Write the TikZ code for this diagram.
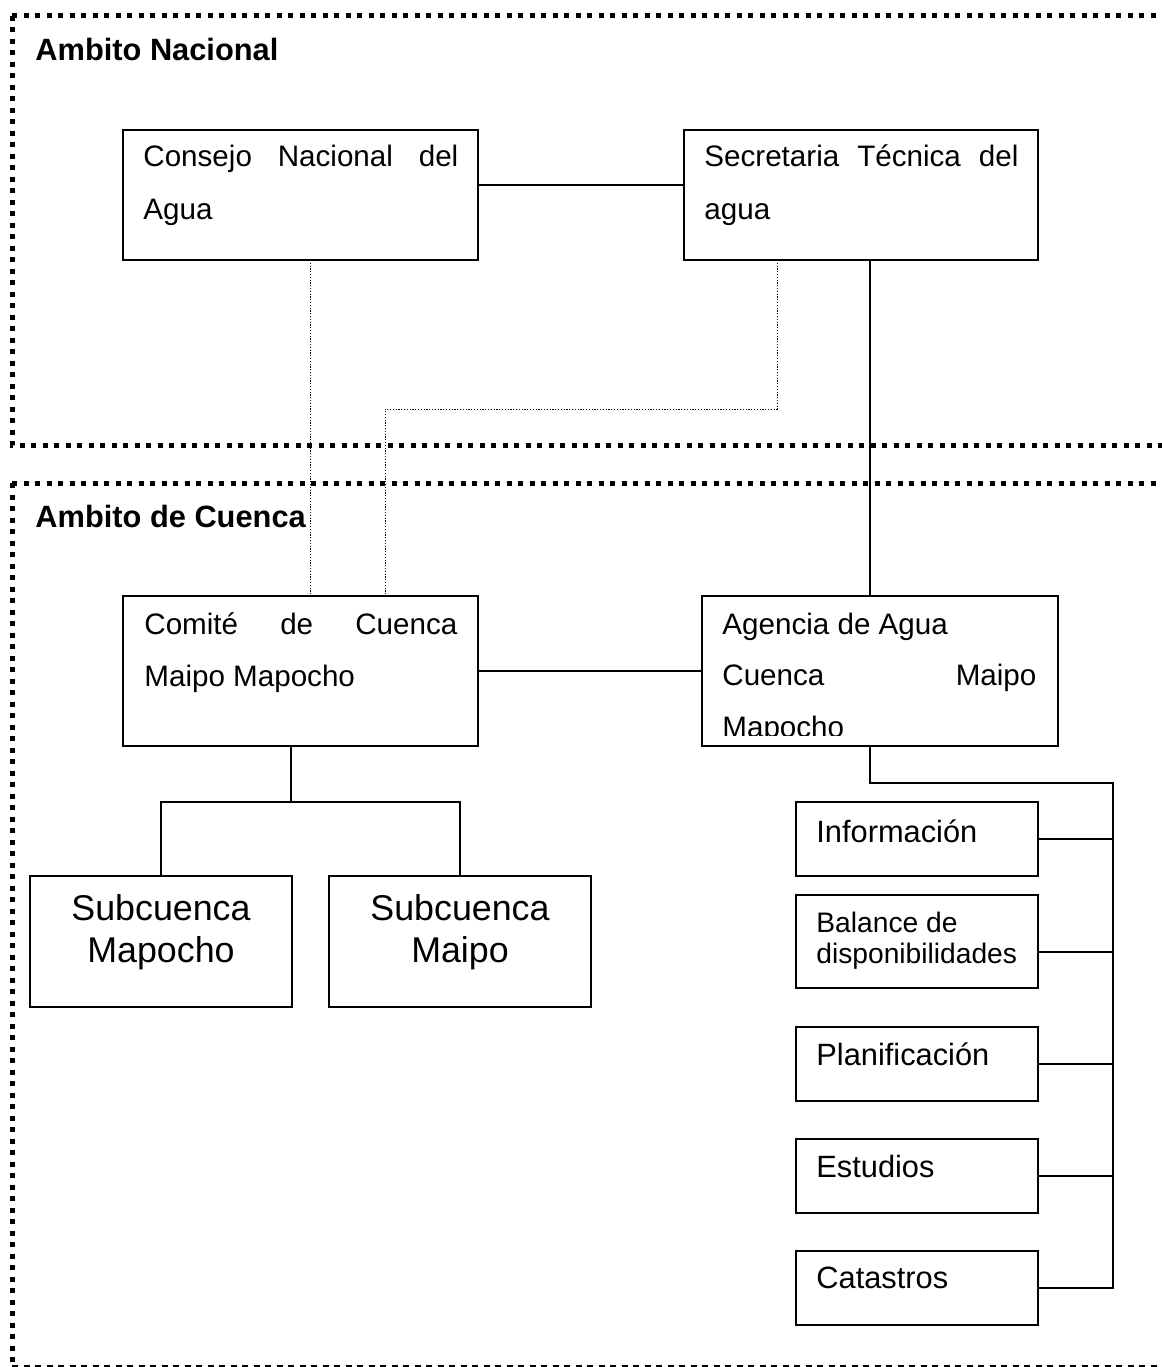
\documentclass[tikz,border=0pt]{standalone}
\usepackage{fontspec}
\setmainfont{Liberation Sans}
\begin{document}
\begin{tikzpicture}[x=0.5pt,y=-0.5pt]
\tikzset{
  box/.style={draw, line width=0.8pt, inner sep=0pt, outer sep=0pt},
  link/.style={line width=0.65pt},
  dotlink/.style={line width=0.5pt, dash pattern=on 0.6pt off 0.8pt},
  frame/.style={line width=2.5pt, dash pattern=on 2.5pt off 3.25pt},
  framebase/.style={line width=1pt, dash pattern=on 3pt off 2.75pt},
  txt/.style={anchor=base west, inner sep=0pt, font=\fontsize{14.8pt}{17pt}\selectfont},
  smalltxt/.style={anchor=base west, inner sep=0pt, font=\fontsize{15.4pt}{18pt}\selectfont},
  bigtxt/.style={anchor=base, inner sep=0pt, font=\fontsize{17.9pt}{21pt}\selectfont},
  title/.style={anchor=base west, inner sep=0pt, font=\fontsize{15.4pt}{18pt}\selectfont\bfseries},
}
\useasboundingbox (0,0) rectangle (1162,1367);
\clip (0,0) rectangle (1162,1367);

% dotted frames of the two levels
\draw[frame] (12,15.5) -- (1175,15.5);
\draw[frame] (12,15.5) -- (12,445) -- (1175,445);
\draw[frame] (12,483) -- (1175,483);
\draw[frame] (12,483) -- (12,1362);
\draw[framebase] (12,1366) -- (1175,1366);

\node[title] (tnac) at (35,60) {Ambito Nacional};
\node[title] (tcue) at (35,527) {Ambito de Cuenca};

% boxes
\node[box, minimum width=177.5pt, minimum height=65pt] (cn) at (300.5,195) {};
\node[box, minimum width=177pt, minimum height=65pt] (st) at (861,195) {};
\node[box, minimum width=177.5pt, minimum height=75pt] (cc) at (300.5,671) {};
\node[box, minimum width=178pt, minimum height=75pt] (ag) at (880,671) {};
\node[box, minimum width=131pt, minimum height=65.5pt] (smap) at (161,941.5) {};
\node[box, minimum width=131pt, minimum height=65.5pt] (smai) at (460,941.5) {};
\node[box, minimum width=121pt, minimum height=37pt] (inf) at (917,839) {};
\node[box, minimum width=121pt, minimum height=46.5pt] (bal) at (917,941.5) {};
\node[box, minimum width=121pt, minimum height=37pt] (pla) at (917,1064) {};
\node[box, minimum width=121pt, minimum height=37pt] (est) at (917,1176) {};
\node[box, minimum width=121pt, minimum height=37pt] (cat) at (917,1288) {};

% box texts
\node[txt] (cn1) at (143,166) {\makebox[157.5pt][s]{Consejo Nacional del}};
\node[txt] (cn2) at (143,219) {Agua};
\node[txt] (st1) at (704,166) {\makebox[157pt][s]{Secretaria Técnica del}};
\node[txt] (st2) at (704,219) {agua};
\node[txt] (cc1) at (144,634) {\makebox[156.5pt][s]{Comité de Cuenca}};
\node[txt] (cc2) at (144,686) {Maipo Mapocho};
\node[txt] (ag1) at (722,634) {Agencia de Agua};
\node[txt] (ag2) at (722,685) {\makebox[157pt][s]{Cuenca Maipo}};
\begin{scope}
  \clip (702,596) rectangle (1058,735);
  \node[txt] (ag3) at (722,737) {Mapocho};
\end{scope}
\node[bigtxt] (smap1) at (161,920) {Subcuenca};
\node[bigtxt] (smap2) at (161,962) {Mapocho};
\node[bigtxt] (smai1) at (460,920) {Subcuenca};
\node[bigtxt] (smai2) at (460,962) {Maipo};
\node[smalltxt] (inf1) at (816,842) {Información};
\node[anchor=base west, inner sep=0pt, font=\fontsize{14.1pt}{16pt}\selectfont] (bal1) at (816,932) {Balance de};
\node[anchor=base west, inner sep=0pt, font=\fontsize{14.1pt}{16pt}\selectfont] (bal2) at (816,963) {disponibilidades};
\node[smalltxt] (pla1) at (816,1065) {Planificación};
\node[smalltxt] (est1) at (816,1177) {Estudios};
\node[smalltxt] (cat1) at (816,1288) {Catastros};

% solid links
\draw[link] ([yshift=5pt]cn.east) -- ([yshift=5pt]st.west);
\draw[link] (cc.east) -- (ag.west);
\coordinate (agx) at (870,0);
\draw[link] (st.south -| agx) -- (ag.north -| agx);
\coordinate (bustop) at (1113,783);
\draw[link] (ag.south -| agx) |- (bustop) |- (cat.east);
\draw[link] (inf.east) -- (inf.east -| bustop);
\draw[link] ([yshift=-5.25pt]bal.east) -- ([yshift=-5.25pt]bal.east -| bustop);
\draw[link] (pla.east) -- (pla.east -| bustop);
\draw[link] (est.east) -- (est.east -| bustop);
\coordinate (ccx) at (291,802);
\draw[link] (cc.south -| ccx) -- (ccx);
\draw[link] (smap.north) |- (ccx) -| (smai.north);

% dotted links
\coordinate (dA) at (310,0);
\draw[dotlink] (cn.south -| dA) -- (cc.north -| dA);
\coordinate (dB) at (777,409);
\coordinate (dC) at (385,409);
\draw[dotlink] (st.south -| dB) -- (dB) -- (dC) -- (cc.north -| dC);
\end{tikzpicture}
\end{document}
